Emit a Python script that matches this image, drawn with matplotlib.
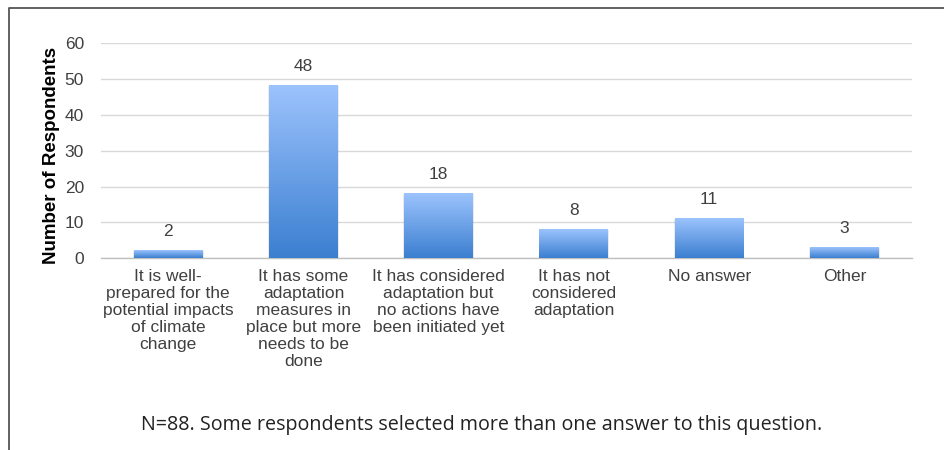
import numpy as np
import matplotlib
matplotlib.use("Agg")
import matplotlib.pyplot as plt
from matplotlib.colors import LinearSegmentedColormap
from matplotlib.lines import Line2D

categories = [
    "It is well-\nprepared for the\npotential impacts\nof climate\nchange",
    "It has some\nadaptation\nmeasures in\nplace but more\nneeds to be\ndone",
    "It has considered\nadaptation but\nno actions have\nbeen initiated yet",
    "It has not\nconsidered\nadaptation",
    "No answer",
    "Other",
]
respondents = [2, 48, 18, 8, 11, 3]
y_ticks = [0, 10, 20, 30, 40, 50, 60]
y_label = "Number of Respondents"
footnote = "N=88. Some respondents selected more than one answer to this question."

plt.rcParams["font.family"] = ["Liberation Sans", "DejaVu Sans"]

W, H = 945, 450
fig = plt.figure(figsize=(W / 100, H / 100), dpi=100)
ax = fig.add_axes([100.6 / W, 1 - 258.3 / H, (912 - 100.6) / W, (258.3 - 43.3) / H])

x = np.arange(len(categories))
bar_w = 0.51
bars = ax.bar(x, respondents, width=bar_w, color="none", edgecolor="none", zorder=3)

grad_cmap = LinearSegmentedColormap.from_list("blue_grad", ["#3b7fd0", "#9cc3fd"])
grad = np.linspace(0, 1, 256).reshape(-1, 1)
for b in bars:
    bx, bw, bh = b.get_x(), b.get_width(), b.get_height()
    # soft drop shadow
    ax.add_patch(plt.Rectangle((bx - 0.006, -0.25), bw + 0.012, bh + 0.25,
                               facecolor="#000000", alpha=0.08, edgecolor="none", zorder=2))
    ax.imshow(grad, cmap=grad_cmap, origin="lower", aspect="auto",
              extent=[bx, bx + bw, 0, bh], zorder=3, interpolation="bilinear")

for xi, v in zip(x, respondents):
    ax.annotate(str(v), (xi, v), xytext=(0, 14), textcoords="offset points",
                ha="center", va="center", fontsize=12.5, color="#404040")

ax.set_xlim(-0.5, len(categories) - 0.5)
ax.set_ylim(0, 60)
ax.set_yticks(y_ticks)
ax.set_xticks(x)
ax.set_xticklabels(categories, fontsize=12.5, color="#404040", linespacing=1.16)
ax.tick_params(axis="y", length=0, pad=12, labelsize=12.5, labelcolor="#404040")
ax.tick_params(axis="x", length=0, pad=8)
ax.yaxis.grid(True, color="#d9d9d9", linewidth=1.0, zorder=0)
ax.set_axisbelow(True)
for s in ["top", "right", "left"]:
    ax.spines[s].set_visible(False)
ax.spines["bottom"].set_color("#c0c0c0")
ax.spines["bottom"].set_linewidth(1.0)

fig.text(52 / W, 1 - 155 / H, y_label, rotation=90, ha="center", va="center",
         fontsize=13.5, fontweight="bold", color="#000000")

fig.text(482 / W, 1 - 425 / H, footnote, ha="center", va="center",
         fontsize=14.2, color="#222222", family=["Open Sans", "DejaVu Sans"])

# outer frame: left and top edges
fig.add_artist(Line2D([9.5 / W, 9.5 / W, 1.0], [0.0, 1 - 8 / H, 1 - 8 / H],
                      color="#555555", linewidth=1.3, transform=fig.transFigure))

fig.savefig("out.png", dpi=100)
